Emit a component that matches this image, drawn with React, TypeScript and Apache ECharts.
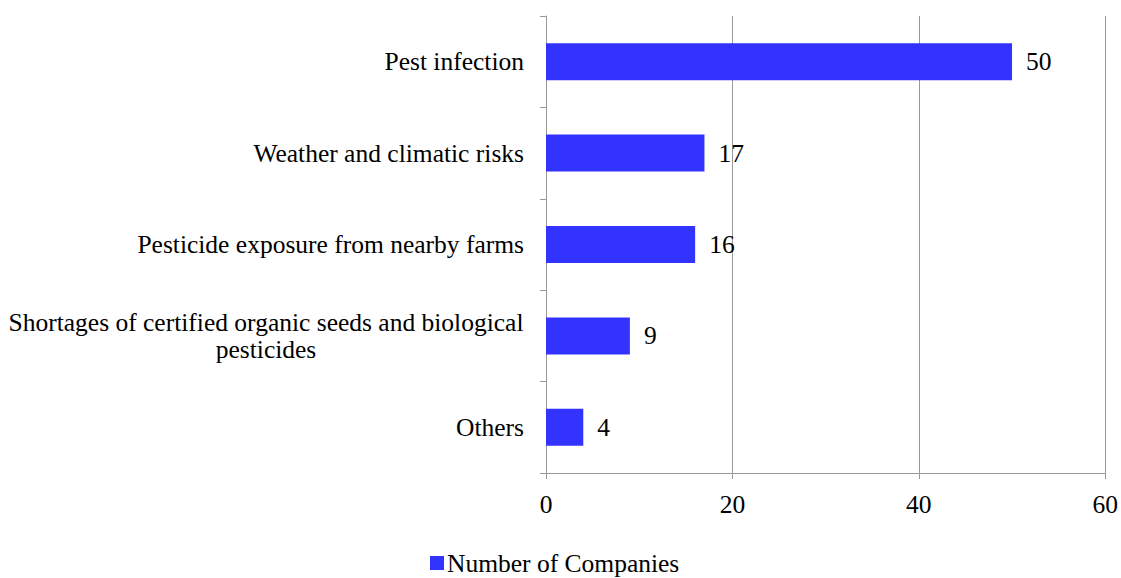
import React, { useEffect, useRef } from "react";
import * as echarts from "echarts";

const categories = [
  "Pest infection",
  "Weather and climatic risks",
  "Pesticide exposure from nearby farms",
  "Shortages of certified organic seeds and biological\npesticides",
  "Others",
];
const companies = [50, 17, 16, 9, 4];
const xTicks = { min: 0, max: 60, interval: 20 };
const seriesName = "Number of Companies";

const FONT = "'Liberation Serif', 'Times New Roman', serif";
const FS = 25.5;

export default function App() {
  const ref = useRef<HTMLDivElement>(null);

  useEffect(() => {
    if (!ref.current) return;
    const chart = echarts.init(ref.current, undefined, { renderer: "svg" });
    chart.setOption({
      animation: false,
      textStyle: { fontFamily: FONT, color: "#000" },
      grid: { left: 546, right: 15, top: 16, bottom: 105, containLabel: false },
      legend: {
        data: [seriesName],
        top: 550,
        left: 430,
        padding: 0,
        itemWidth: 14,
        itemHeight: 14,
        itemGap: 4,
        icon: "rect",
        textStyle: {
          fontFamily: FONT,
          fontSize: FS,
          lineHeight: 26,
          color: "#000",
          padding: [0, 0, 0, -2],
        },
      },
      xAxis: {
        type: "value",
        min: xTicks.min,
        max: xTicks.max,
        interval: xTicks.interval,
        axisLine: { show: true, lineStyle: { color: "#999" } },
        axisTick: { show: true, length: 6, lineStyle: { color: "#999" } },
        axisLabel: { fontFamily: FONT, fontSize: FS, color: "#000", margin: 18 },
        splitLine: { show: true, lineStyle: { color: "#999" } },
      },
      yAxis: {
        type: "category",
        data: categories,
        inverse: true,
        axisLine: { show: true, lineStyle: { color: "#999" } },
        axisTick: { show: true, length: 6, lineStyle: { color: "#999" } },
        axisLabel: {
          fontFamily: FONT,
          fontSize: FS,
          color: "#000",
          margin: 22,
          formatter: (v: string) => (v.includes("\n") ? `{c|${v}}` : v),
          rich: {
            c: { fontFamily: FONT, fontSize: FS, color: "#000", width: 516, align: "center", lineHeight: 27 },
          },
        },
      },
      series: [
        {
          name: seriesName,
          type: "bar",
          data: companies,
          barWidth: 37,
          itemStyle: { color: "#3333FF" },
          label: {
            show: true,
            position: "right",
            distance: 14,
            fontFamily: FONT,
            fontSize: FS,
            color: "#000",
          },
        },
      ],
    });
    return () => chart.dispose();
  }, []);

  return (
    <div
      ref={ref}
      style={{ position: "absolute", left: 0, top: 0, width: 1121, height: 578 }}
    />
  );
}
